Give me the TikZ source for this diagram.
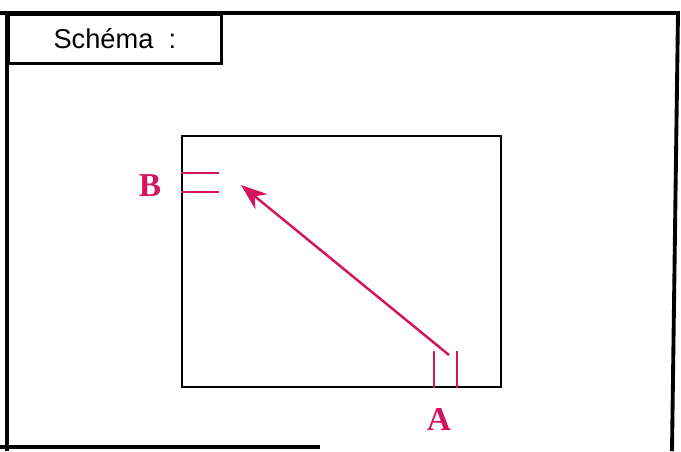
\documentclass[tikz,border=0pt]{standalone}
\usepackage{fontspec}
\setmainfont{Liberation Serif}
\setsansfont{Liberation Sans}
\usetikzlibrary{positioning, calc, arrows.meta}
\definecolor{Crimson}{HTML}{D3145E}

\begin{document}
\begin{tikzpicture}[x=0.02cm, y=-0.02cm,
  frame/.style={draw=black, line width=2.2pt},
  title/.style={
    draw=black, line width=1.5pt, minimum width=213*0.02cm,
    minimum height=49*0.02cm, font=\sffamily\fontsize{15.5}{18}\selectfont,
    inner sep=0pt
  },
  cadre/.style={
    draw=black, line width=1.4pt, minimum width=319*0.02cm,
    minimum height=251*0.02cm, inner sep=0pt
  },
  tick/.style={Crimson, line width=1.4pt},
  lbl/.style={text=Crimson, font=\bfseries\fontsize{19}{22}\selectfont, inner sep=0pt},
  arr/.style={-{Stealth[length=15pt, width=11pt]}, Crimson, line width=1.4pt}
]
  \useasboundingbox (0,0) rectangle (681,451);
  % Outer frame
  \draw[frame] (0,13) -- (678,13) -- (672,451);
  \draw[frame] (7,13) -- (7,451);
  \draw[frame] (0,447) -- (320,447);
  \node[title, anchor=north west] (t) at (7,13) {Sch\'ema\ \ :};
  % Inner frame
  \node[cadre, anchor=north west] (c) at (181,135) {};
  % B marks
  \draw[tick] ($(c.north west)+(0,38)$) -- ++(38,0);
  \draw[tick] ($(c.north west)+(0,57)$) -- ++(38,0);
  \node[lbl] (b) at (150,186) {B};
  % A marks
  \draw[tick] ($(c.south west)+(253,0)$) -- ++(0,-37);
  \draw[tick] ($(c.south west)+(276,0)$) -- ++(0,-37);
  \node[lbl] (a) at (439,419) {A};
  % Arrow
  \coordinate (from) at (449,355);
  \coordinate (to) at (241,185);
  \draw[arr] (from) -- (to);
\end{tikzpicture}
\end{document}
